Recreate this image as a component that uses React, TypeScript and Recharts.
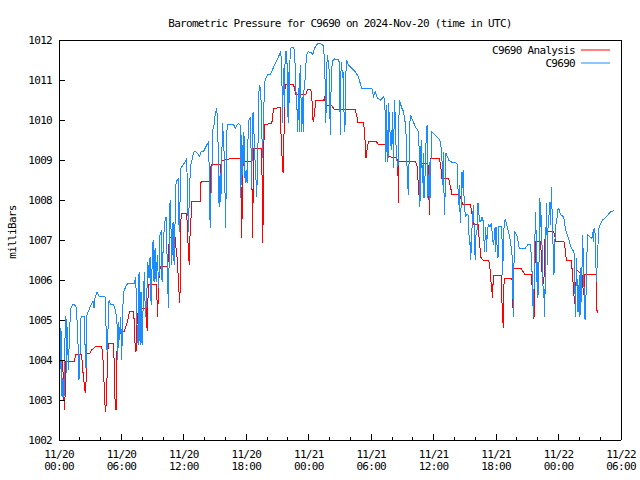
import React from "react";
import { LineChart, Line, XAxis, YAxis } from "recharts";

// [hours since 11/20 00:00 UTC, millibars]
const analysisReadings: [number, number][] = [
  [0.0, 1004.0], [0.32, 1004.0], [0.42, 1003.54], [0.51, 1002.75], [0.58, 1003.08], [0.64, 1003.96], [1.47, 1003.96], [1.6, 1004.13], [2.18, 1004.13], [2.28, 1003.75],
  [2.37, 1003.54], [2.47, 1003.29], [2.53, 1003.17], [2.6, 1003.46], [2.69, 1004.17], [2.98, 1004.17], [3.14, 1004.25], [3.33, 1004.29], [3.49, 1004.33], [4.1, 1004.33],
  [4.2, 1004.13], [4.29, 1003.71], [4.39, 1002.96], [4.49, 1002.71], [4.58, 1003.13], [4.65, 1004.0], [4.74, 1004.42], [5.26, 1004.42], [5.32, 1003.58], [5.38, 1003.04],
  [5.48, 1002.75], [5.54, 1004.0], [5.64, 1004.67], [6.03, 1004.67], [6.28, 1004.72], [6.57, 1004.96], [6.79, 1005.21], [7.18, 1005.21], [7.31, 1004.38], [7.4, 1004.21],
  [7.5, 1004.92], [7.63, 1005.29], [8.43, 1005.29], [8.46, 1004.73], [8.59, 1005.88], [9.39, 1005.88], [9.45, 1005.08], [9.55, 1005.58], [9.62, 1006.13], [9.74, 1006.35],
  [10.45, 1006.35], [10.61, 1007.07], [11.15, 1007.07], [11.25, 1006.79], [11.38, 1006.46], [11.47, 1006.0], [11.54, 1005.67], [11.6, 1005.42], [11.66, 1005.96], [11.73, 1007.67],
  [12.27, 1007.67], [12.37, 1007.13], [12.43, 1006.67], [12.53, 1006.38], [12.59, 1007.13], [12.69, 1007.58], [12.75, 1007.96], [13.56, 1007.96], [13.65, 1008.46], [14.42, 1008.46],
  [14.49, 1008.04], [14.55, 1007.9], [14.61, 1008.88], [15.48, 1008.88], [15.54, 1008.63], [15.64, 1008.98], [16.28, 1009.02], [16.6, 1009.04], [17.4, 1009.04], [17.47, 1008.88],
  [17.53, 1007.06], [17.59, 1007.58], [17.69, 1008.96], [18.52, 1008.96], [18.59, 1007.06], [18.65, 1008.08], [18.72, 1009.29], [19.49, 1009.29], [19.55, 1006.92], [19.65, 1007.75],
  [19.71, 1009.88], [20.45, 1009.92], [20.61, 1010.29], [21.25, 1010.31], [21.31, 1009.71], [21.38, 1009.5], [21.44, 1009.0], [21.51, 1008.71], [21.57, 1008.69], [21.64, 1010.0],
  [21.73, 1010.89], [22.53, 1010.89], [22.63, 1010.79], [22.76, 1010.63], [23.72, 1010.63], [23.88, 1010.77], [24.2, 1010.77], [24.3, 1010.54], [24.36, 1010.17], [24.42, 1009.96],
  [24.49, 1010.04], [24.55, 1010.19], [24.68, 1010.5], [25.42, 1010.5], [25.51, 1010.56], [25.64, 1010.36], [26.22, 1010.36], [26.47, 1010.25], [28.46, 1010.27], [28.59, 1010.13],
  [28.72, 1009.94], [29.26, 1009.94], [29.36, 1009.71], [29.42, 1009.42], [29.49, 1009.04], [29.55, 1009.13], [29.62, 1009.31], [29.74, 1009.47], [30.45, 1009.47], [30.71, 1009.38],
  [31.35, 1009.38], [31.67, 1009.17], [31.73, 1009.08], [32.47, 1009.06], [32.54, 1008.79], [32.57, 1008.71], [32.6, 1007.92], [32.66, 1008.96], [34.23, 1008.96], [34.39, 1008.88],
  [34.46, 1008.71], [34.52, 1008.38], [34.59, 1008.13], [34.65, 1008.92], [35.45, 1008.92], [35.52, 1008.46], [35.58, 1007.63], [35.64, 1008.21], [35.71, 1009.04], [36.54, 1009.04],
  [36.64, 1008.92], [36.7, 1008.79], [36.77, 1008.54], [37.44, 1008.54], [37.6, 1008.35], [37.76, 1008.14], [38.47, 1008.14], [38.66, 1008.0], [38.82, 1007.88], [39.52, 1007.88],
  [39.71, 1007.63], [39.84, 1007.39], [40.26, 1007.39], [40.39, 1006.96], [40.55, 1006.56], [40.81, 1006.48], [41.29, 1006.48], [41.38, 1006.38], [41.51, 1005.96], [41.57, 1005.88],
  [41.64, 1005.54], [41.7, 1005.88], [41.77, 1006.11], [42.5, 1006.11], [42.56, 1005.46], [42.63, 1005.08], [42.69, 1004.79], [42.72, 1005.71], [42.79, 1006.04], [43.52, 1006.04],
  [43.59, 1005.71], [43.62, 1005.29], [43.68, 1006.29], [44.42, 1006.29], [44.64, 1006.19], [44.74, 1006.13], [45.38, 1006.13], [45.45, 1005.88], [45.51, 1005.71], [45.57, 1005.08],
  [45.64, 1005.04], [45.7, 1005.79], [45.77, 1006.96], [46.25, 1006.96], [46.31, 1006.79], [46.41, 1006.21], [46.47, 1005.88], [46.54, 1005.92], [46.6, 1006.04], [46.66, 1006.79],
  [46.73, 1007.21], [47.53, 1007.21], [47.63, 1007.13], [47.72, 1006.96], [48.52, 1006.96], [48.62, 1006.79], [48.71, 1006.58], [48.81, 1006.48], [49.23, 1006.48], [49.32, 1006.21],
  [49.45, 1005.71], [49.55, 1005.39], [49.61, 1005.63], [49.68, 1005.96], [49.74, 1006.25], [50.25, 1006.13], [50.35, 1005.79], [50.41, 1005.63], [50.51, 1006.13], [51.63, 1006.13],
  [51.7, 1005.17],
];

const stationReadings: [number, number][] = [
  [0.0, 1003.54], [0.06, 1003.08], [0.13, 1004.38], [0.19, 1004.79], [0.29, 1003.08], [0.38, 1003.54], [0.48, 1003.08], [0.58, 1004.58], [0.67, 1005.1], [0.74, 1003.67],
  [0.8, 1004.83], [0.9, 1003.75], [1.03, 1004.83], [1.15, 1005.29], [1.31, 1005.38], [1.47, 1005.39], [1.63, 1005.33], [1.73, 1005.0], [1.83, 1004.38], [1.92, 1003.5],
  [2.02, 1004.17], [2.12, 1005.1], [2.44, 1005.1], [2.5, 1004.38], [2.6, 1003.79], [2.69, 1005.13], [2.88, 1005.25], [3.08, 1005.38], [3.27, 1005.46], [3.37, 1005.29],
  [3.46, 1005.54], [3.65, 1005.69], [3.85, 1005.6], [4.04, 1005.58], [4.42, 1005.58], [4.52, 1004.83], [4.62, 1004.21], [4.71, 1004.79], [4.81, 1005.5], [4.94, 1005.39],
  [5.26, 1005.38], [5.45, 1005.21], [5.58, 1004.88], [5.64, 1004.0], [5.74, 1004.96], [5.83, 1004.5], [5.93, 1005.08], [6.03, 1004.0], [6.12, 1005.29], [6.25, 1005.73],
  [6.41, 1005.83], [6.6, 1005.92], [7.24, 1005.92], [7.37, 1006.08], [7.5, 1004.83], [7.6, 1004.38], [7.69, 1006.19], [7.79, 1004.38], [7.88, 1005.71], [7.98, 1004.38],
  [8.11, 1005.54], [8.2, 1006.19], [8.3, 1005.08], [8.43, 1005.54], [8.53, 1006.46], [8.65, 1006.04], [8.75, 1006.58], [8.85, 1005.38], [8.94, 1006.29], [9.04, 1007.0],
  [9.13, 1005.96], [9.23, 1006.79], [9.33, 1005.96], [9.45, 1006.63], [9.58, 1005.79], [9.71, 1007.17], [9.81, 1007.21], [9.9, 1005.96], [10.03, 1006.96], [10.16, 1007.46],
  [10.29, 1007.58], [10.51, 1005.29], [10.57, 1006.29], [10.67, 1008.0], [10.73, 1007.71], [10.83, 1006.38], [10.96, 1007.46], [11.06, 1006.38], [11.15, 1007.42], [11.25, 1008.46],
  [11.47, 1008.52], [11.54, 1007.21], [11.6, 1007.63], [11.7, 1008.79], [11.95, 1008.88], [12.11, 1008.96], [12.27, 1009.03], [12.43, 1007.21], [12.53, 1008.13], [12.63, 1008.83],
  [12.75, 1008.96], [12.91, 1009.17], [13.07, 1009.23], [13.4, 1009.13], [13.52, 1009.1], [13.65, 1009.21], [13.88, 1009.21], [14.04, 1009.29], [14.2, 1009.38], [14.36, 1009.44],
  [14.45, 1008.63], [14.52, 1007.31], [14.58, 1008.04], [14.68, 1008.54], [14.77, 1009.75], [14.9, 1009.88], [15.0, 1010.13], [15.16, 1010.31], [15.25, 1009.79], [15.32, 1008.96],
  [15.38, 1007.83], [15.48, 1008.67], [15.54, 1007.96], [15.61, 1008.46], [15.7, 1009.92], [15.8, 1009.58], [15.86, 1009.21], [15.93, 1008.67], [15.99, 1007.31], [16.09, 1008.54],
  [16.15, 1009.9], [16.76, 1009.9], [16.92, 1009.79], [17.08, 1009.86], [17.24, 1009.92], [17.4, 1009.88], [17.47, 1008.04], [17.56, 1009.63], [17.66, 1008.63], [17.75, 1009.71],
  [17.82, 1009.42], [17.88, 1008.42], [17.98, 1008.75], [18.07, 1008.42], [18.2, 1009.96], [18.39, 1010.08], [18.46, 1009.17], [18.52, 1008.29], [18.59, 1010.13], [18.68, 1010.21],
  [18.78, 1009.25], [18.91, 1008.63], [19.0, 1008.08], [19.1, 1009.13], [19.23, 1010.88], [19.32, 1010.83], [19.42, 1010.46], [19.55, 1009.04], [19.65, 1009.88], [19.74, 1010.92],
  [19.87, 1011.04], [20.06, 1011.13], [20.29, 1011.13], [20.45, 1011.21], [20.7, 1011.38], [21.02, 1011.54], [21.31, 1011.71], [21.41, 1011.21], [21.48, 1009.92], [21.54, 1010.88],
  [21.6, 1011.29], [21.67, 1010.33], [21.73, 1011.71], [21.89, 1011.71], [21.96, 1010.63], [22.02, 1009.92], [22.08, 1011.21], [22.15, 1010.42], [22.21, 1011.79], [22.53, 1011.82],
  [22.63, 1011.75], [22.69, 1011.33], [22.76, 1010.75], [22.85, 1010.46], [22.92, 1009.71], [23.01, 1010.79], [23.08, 1009.71], [23.17, 1011.38], [23.24, 1010.79], [23.3, 1009.71],
  [23.4, 1010.58], [23.46, 1009.71], [23.53, 1010.71], [23.65, 1011.04], [23.78, 1011.63], [23.97, 1011.71], [24.3, 1011.67], [24.39, 1011.63], [24.49, 1011.73], [24.62, 1011.83],
  [24.78, 1011.89], [24.94, 1011.92], [25.26, 1011.89], [25.42, 1011.85], [25.48, 1011.58], [25.58, 1010.88], [25.64, 1009.92], [25.71, 1010.96], [25.77, 1011.63], [25.9, 1011.42],
  [25.99, 1011.13], [26.06, 1009.63], [26.15, 1010.88], [26.22, 1011.33], [26.31, 1011.48], [26.47, 1011.53], [26.86, 1011.5], [26.96, 1011.42], [27.02, 1009.63], [27.08, 1011.13],
  [27.15, 1011.46], [27.24, 1011.04], [27.34, 1011.21], [27.4, 1009.88], [27.47, 1009.71], [27.53, 1010.63], [27.6, 1011.5], [27.82, 1011.38], [28.14, 1011.29], [28.46, 1011.21],
  [28.78, 1011.08], [28.94, 1010.92], [29.1, 1010.79], [30.06, 1010.79], [30.22, 1010.58], [30.39, 1010.71], [30.61, 1010.54], [30.9, 1010.5], [31.19, 1010.58], [31.28, 1010.5],
  [31.35, 1010.13], [31.41, 1008.96], [31.48, 1010.38], [31.54, 1009.42], [31.61, 1008.96], [31.67, 1010.42], [31.8, 1009.71], [31.93, 1009.25], [32.06, 1010.21], [32.12, 1008.79],
  [32.18, 1009.67], [32.25, 1010.5], [32.38, 1009.38], [32.5, 1008.88], [32.57, 1008.83], [32.63, 1009.63], [32.7, 1010.5], [32.95, 1010.29], [33.11, 1010.21], [33.27, 1009.92],
  [33.37, 1009.54], [33.43, 1008.92], [33.5, 1008.46], [33.56, 1008.13], [33.63, 1008.88], [33.69, 1009.71], [33.75, 1010.13], [33.98, 1010.0], [34.23, 1009.83], [34.56, 1009.71],
  [34.62, 1009.04], [34.68, 1007.83], [34.75, 1009.13], [34.81, 1009.5], [34.88, 1008.79], [34.94, 1008.42], [35.0, 1009.17], [35.07, 1008.04], [35.13, 1008.46], [35.2, 1008.71],
  [35.26, 1009.38], [35.32, 1009.79], [35.39, 1009.88], [35.45, 1008.04], [35.52, 1008.63], [35.58, 1008.0], [35.64, 1008.96], [35.71, 1008.04], [35.77, 1009.71], [36.09, 1009.63],
  [36.48, 1009.54], [36.64, 1009.46], [36.73, 1009.29], [36.8, 1009.0], [36.86, 1008.38], [36.93, 1009.21], [36.99, 1008.21], [37.06, 1007.63], [37.12, 1008.46], [37.18, 1009.17],
  [37.44, 1009.0], [37.76, 1008.94], [38.24, 1008.92], [38.31, 1008.46], [38.4, 1007.88], [38.47, 1008.38], [38.53, 1007.71], [38.59, 1007.42], [38.66, 1008.13], [38.72, 1008.71],
  [38.79, 1008.29], [38.85, 1008.75], [38.91, 1008.13], [39.04, 1007.58], [39.17, 1007.63], [39.3, 1007.63], [39.36, 1007.42], [39.43, 1006.88], [39.49, 1006.96], [39.56, 1006.5],
  [39.62, 1006.88], [39.68, 1007.29], [39.75, 1007.58], [39.81, 1007.88], [39.88, 1007.42], [39.94, 1006.75], [40.0, 1006.5], [40.07, 1007.13], [40.2, 1007.29], [40.26, 1007.92],
  [40.32, 1007.79], [40.39, 1007.46], [40.52, 1007.46], [40.65, 1007.58], [40.77, 1007.46], [40.84, 1006.96], [40.9, 1006.71], [40.97, 1007.33], [41.03, 1007.13], [41.09, 1006.71],
  [41.16, 1007.29], [41.29, 1007.38], [41.41, 1007.33], [41.54, 1007.42], [41.67, 1007.04], [41.73, 1006.88], [41.8, 1007.0], [41.86, 1007.29], [41.93, 1006.71], [41.99, 1007.33],
  [42.06, 1007.04], [42.12, 1006.67], [42.18, 1006.54], [42.25, 1007.33], [42.5, 1007.33], [42.56, 1007.13], [42.63, 1006.13], [42.69, 1006.75], [42.75, 1007.29], [42.88, 1007.53],
  [43.07, 1007.33], [43.33, 1007.04], [43.52, 1006.67], [43.59, 1006.13], [43.65, 1005.08], [43.71, 1006.29], [43.78, 1007.21], [44.04, 1007.08], [44.23, 1006.79], [44.8, 1006.79],
  [45.06, 1006.89], [45.29, 1006.89], [45.35, 1006.71], [45.45, 1006.21], [45.51, 1005.71], [45.57, 1005.08], [45.64, 1005.75], [45.7, 1006.54], [45.77, 1007.71], [45.83, 1007.29],
  [45.89, 1006.46], [45.96, 1005.54], [46.02, 1006.46], [46.09, 1005.63], [46.15, 1007.13], [46.21, 1008.04], [46.28, 1007.33], [46.34, 1007.63], [46.41, 1006.88], [46.47, 1006.17],
  [46.54, 1005.54], [46.6, 1005.79], [46.66, 1005.08], [46.73, 1006.13], [46.79, 1007.29], [46.86, 1007.92], [46.92, 1006.38], [46.98, 1007.29], [47.05, 1007.5], [47.18, 1007.96],
  [47.24, 1007.38], [47.3, 1008.33], [47.37, 1007.79], [47.43, 1007.13], [47.5, 1006.71], [47.56, 1006.13], [47.63, 1006.71], [47.69, 1007.33], [47.82, 1007.46], [47.95, 1007.79],
  [48.07, 1007.75], [48.2, 1007.63], [48.49, 1007.58], [48.65, 1007.29], [48.84, 1007.13], [49.04, 1006.96], [49.23, 1006.79], [49.48, 1006.71], [49.55, 1006.29], [49.61, 1005.08],
  [49.68, 1005.88], [49.74, 1006.54], [49.8, 1005.63], [49.87, 1005.21], [49.93, 1005.63], [50.0, 1006.13], [50.06, 1005.08], [50.13, 1006.29], [50.19, 1005.46], [50.25, 1006.29],
  [50.32, 1007.13], [50.38, 1006.46], [50.45, 1005.79], [50.51, 1005.08], [50.57, 1005.0], [50.64, 1005.63], [50.7, 1006.29], [50.77, 1007.13], [51.02, 1007.08], [51.21, 1007.04],
  [51.28, 1007.21], [51.34, 1006.96], [51.41, 1007.29], [51.53, 1007.13], [51.6, 1006.29], [51.66, 1005.96], [51.73, 1006.63], [51.79, 1006.88], [51.86, 1007.29], [52.05, 1007.42],
  [52.24, 1007.5], [52.5, 1007.56], [52.75, 1007.63], [53.01, 1007.71], [53.3, 1007.73],
];

const hourTicks = [0, 2, 4, 6, 8, 10, 12, 14, 16, 18, 20, 22, 24, 26, 28, 30, 32, 34, 36, 38, 40, 42, 44, 46, 48, 50, 52, 54];
const dateLabels = ["11/20", "11/20", "11/20", "11/20", "11/21", "11/21", "11/21", "11/21", "11/22", "11/22"];
const timeLabels = ["00:00", "06:00", "12:00", "18:00", "00:00", "06:00", "12:00", "18:00", "00:00", "06:00"];
const pressureTicks = [1002, 1003, 1004, 1005, 1006, 1007, 1008, 1009, 1010, 1011, 1012];

const RED = "#ff0000";
const BLUE = "#1a8cff";
const FONT = '"DejaVu Sans Mono", "Liberation Mono", monospace';
const textStyle = { fontFamily: FONT, fontSize: 11, letterSpacing: "-0.7px" };

const legendItems = [
  { name: "C9690 Analysis", color: RED },
  { name: "C9690", color: BLUE },
];

const toRows = (pts: [number, number][]) => pts.map(([t, p]) => ({ t, p }));

function BottomTick({ x, y, payload }: any) {
  const v = payload.value;
  const major = v % 6 === 0;
  const i = v / 6;
  return (
    <g>
      <line x1={x} x2={x} y1={y} y2={y - (major ? 6 : 3)} stroke="#000" />
      {major && (
        <text x={x} y={y} textAnchor="middle" fill="#000" style={textStyle}>
          <tspan x={x} dy={18}>{dateLabels[i]}</tspan>
          <tspan x={x} dy={12}>{timeLabels[i]}</tspan>
        </text>
      )}
    </g>
  );
}

function TopTick({ x, y, payload }: any) {
  const major = payload.value % 6 === 0;
  return <line x1={x} x2={x} y1={y} y2={y + (major ? 6 : 3)} stroke="#000" />;
}

function LeftTick({ x, y, payload }: any) {
  return (
    <g>
      <line x1={x} x2={x + 6} y1={y} y2={y} stroke="#000" />
      <text x={x - 7} y={y} dy={4} textAnchor="end" fill="#000" style={textStyle}>
        {payload.value}
      </text>
    </g>
  );
}

function RightTick({ x, y }: any) {
  return <line x1={x} x2={x - 6} y1={y} y2={y} stroke="#000" />;
}

export default function App() {
  return (
    <div style={{ position: "absolute", left: 0, top: 0, width: 640, height: 480, background: "#fff" }}>
      <style>{`.recharts-line-curve, .recharts-cartesian-axis-line, .recharts-layer line { shape-rendering: crispEdges; }`}</style>
      <LineChart width={640} height={480} margin={{ top: 39, right: 18, bottom: 39, left: 58 }}>
        <XAxis
          xAxisId="b"
          dataKey="t"
          type="number"
          domain={[0, 54]}
          ticks={hourTicks}
          interval={0}
          height={1}
          tickSize={0}
          tickMargin={0}
          tickLine={false}
          axisLine={{ stroke: "#000" }}
          tick={<BottomTick />}
        />
        <XAxis
          xAxisId="top"
          orientation="top"
          type="number"
          domain={[0, 54]}
          ticks={hourTicks}
          interval={0}
          height={1}
          tickSize={0}
          tickMargin={0}
          tickLine={false}
          axisLine={{ stroke: "#000" }}
          tick={<TopTick />}
        />
        <YAxis
          yAxisId="l"
          type="number"
          domain={[1002, 1012]}
          ticks={pressureTicks}
          interval={0}
          width={1}
          tickSize={0}
          tickMargin={0}
          tickLine={false}
          axisLine={{ stroke: "#000" }}
          tick={<LeftTick />}
        />
        <YAxis
          yAxisId="r"
          orientation="right"
          type="number"
          domain={[1002, 1012]}
          ticks={pressureTicks}
          interval={0}
          width={1}
          tickSize={0}
          tickMargin={0}
          tickLine={false}
          axisLine={{ stroke: "#000" }}
          tick={<RightTick />}
        />
        <Line
          xAxisId="b"
          yAxisId="l"
          data={toRows(analysisReadings)}
          dataKey="p"
          name="C9690 Analysis"
          type="linear"
          stroke={RED}
          strokeWidth={1}
          dot={false}
          isAnimationActive={false}
        />
        <Line
          xAxisId="b"
          yAxisId="l"
          data={toRows(stationReadings)}
          dataKey="p"
          name="C9690"
          type="linear"
          stroke={BLUE}
          strokeWidth={1}
          dot={false}
          isAnimationActive={false}
        />
      </LineChart>
      <svg width={640} height={480} style={{ position: "absolute", left: 0, top: 0, pointerEvents: "none" }}>
        <text x={340} y={27} textAnchor="middle" fill="#000" style={textStyle}>
          Barometric Pressure for C9690 on 2024-Nov-20 (time in UTC)
        </text>
        <text x={16} y={232} textAnchor="middle" fill="#000" transform="rotate(-90 16 232)" style={textStyle}>
          milliBars
        </text>
        {legendItems.map((item, i) => (
          <g key={item.name}>
            <text x={575} y={54 + i * 13} textAnchor="end" fill="#000" style={textStyle}>
              {item.name}
            </text>
            <line x1={581} x2={610} y1={50 + i * 13} y2={50 + i * 13} stroke={item.color} />
          </g>
        ))}
      </svg>
    </div>
  );
}
